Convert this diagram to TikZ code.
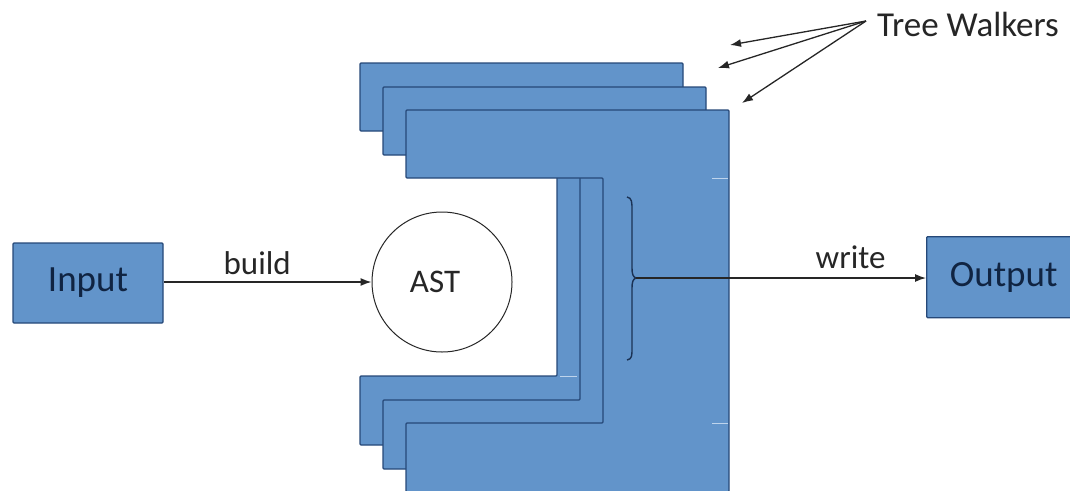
\documentclass[tikz,border=0pt]{standalone}
\usepackage{fontspec}
\setmainfont{Carlito}
\usetikzlibrary{arrows.meta}
\definecolor{boxfill}{RGB}{98,148,202}
\definecolor{boxedge}{RGB}{38,72,120}
\definecolor{boxtext}{RGB}{16,36,66}
\definecolor{inktext}{RGB}{38,38,38}
\definecolor{ghost}{RGB}{190,212,236}
\tikzset{
  blockbox/.style={draw=boxedge, fill=boxfill, line width=1.3pt, rounded corners=1pt,
    text=boxtext, font=\fontsize{37}{40}\selectfont, inner sep=0pt},
  walker/.style={draw=boxedge, fill=boxfill, line width=1.3pt, rounded corners=1pt},
  lbl/.style={text=inktext, font=\fontsize{33}{36}\selectfont, inner sep=0pt},
  flow/.style={draw=inktext, line width=1.3pt, -{Latex[length=11pt,width=8pt]}},
}
\begin{document}
\begin{tikzpicture}[x=1pt,y=-1pt]
\useasboundingbox (0,0) rectangle (1070,490);

% three stacked tree walkers, back to front
\foreach \l/\t in {360/63, 383/87, 406/110}{
  \draw[walker] (\l,\t) -- ++(323,0) -- ++(0,382) -- ++(-323,0) -- ++(0,-69)
    -- ++(197,0) -- ++(0,-245) -- ++(-197,0) -- cycle;
}
% faint seams on the walkers
\draw[ghost, line width=1pt] (712,178) -- (728,178);
\draw[ghost, line width=1pt] (712,423) -- (728,423);
\draw[ghost, line width=1pt] (560,376) -- (577,376);

% input, AST and output
\node[blockbox, minimum width=150pt, minimum height=80pt] (in) at (88,283) {Input};
\node[draw=inktext, fill=white, circle, line width=1pt, minimum size=140pt, lbl] (ast) at (442,282) {AST\hspace*{14pt}};
\node[blockbox, anchor=north west, minimum width=148pt, minimum height=81pt] (out) at (926,236) {\hspace*{6pt}Output};

\draw[flow] (in.east |- 0,282) -- node[lbl, pos=0.45, above=7pt] {build} (ast.west);

% brace gathering the walkers
\coordinate (tip) at (636,278);
\draw[boxedge!70!black, line width=1.4pt]
  (627,197) .. controls (632,198) and (632,202) .. (632,210) -- (632,268)
  .. controls (632,274) and (633,277) .. (tip)
  .. controls (633,279) and (632,282) .. (632,288) -- (632,348)
  .. controls (632,356) and (632,359) .. (627,360);
\draw[flow] (tip) -- node[lbl, pos=0.74, above=9pt] {write} (tip -| out.west);

% label for the walkers
\node[lbl, font=\fontsize{35}{38}\selectfont, anchor=west] (tw) at (877,24) {Tree Walkers};
\coordinate (fan) at (866,21);
\coordinate (w1) at (730,45);
\coordinate (w2) at (718,68);
\coordinate (w3) at (742,103);
\foreach \w in {w1,w2,w3}
  \draw[flow] (fan) -- (\w);
\end{tikzpicture}
\end{document}
